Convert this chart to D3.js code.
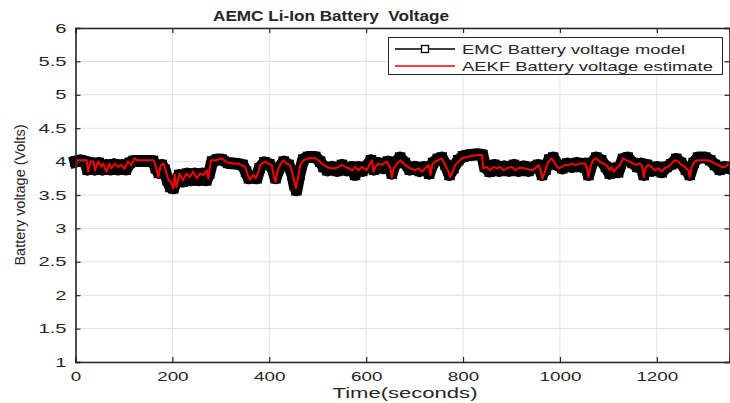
<!DOCTYPE html>
<html>
<head>
<meta charset="utf-8">
<script src="https://cdn.jsdelivr.net/npm/d3@7"></script>
<style>
body { margin: 0; background: #fff; }
text { font-family: "Liberation Sans", Arial, sans-serif; fill: #262626; white-space: pre; }
</style>
</head>
<body>
<svg id="chart" width="730" height="403"></svg>
<script>
// EMC model (black, square markers)
const timeModel = [0,10,20,25,32,40,48,56,64,72,80,88,96,104,112,120,130,160,166,172,178,184,190,196,202,208,214,222,230,238,246,254,262,270,276,282,292,302,315,330,
  345,352,358,366,374,380,390,400,408,413,420,430,440,448,452,456,462,470,480,495,505,512,520,530,540,550,560,570,577,584,592,600,610,616,625,635,645,653,660,670,
  680,690,700,710,720,730,738,748,756,764,772,780,790,800,815,830,840,845,855,865,875,885,895,905,915,925,935,945,955,963,970,978,986,995,1005,1015,1025,1035,1045,1052,
  1059,1066,1075,1085,1095,1103,1112,1120,1130,1140,1150,1160,1167,1173,1180,1190,1200,1210,1220,1230,1240,1250,1260,1268,1276,1285,1300,1310,1320,1330,1340,1350];
const voltModel = [4.00,4.02,4.00,3.88,3.98,3.88,3.98,3.88,3.95,3.88,3.96,3.88,3.95,3.88,3.98,4.01,4.01,4.01,3.90,3.83,3.95,3.88,3.72,3.62,3.60,3.70,3.80,3.70,3.82,3.72,3.82,3.72,3.82,3.72,3.82,4.00,4.03,4.03,3.98,3.97,
  3.95,3.85,3.75,3.78,3.75,3.90,3.99,3.96,3.88,3.75,3.90,4.00,3.95,3.80,3.65,3.57,3.80,4.03,4.07,4.07,4.00,3.92,3.87,3.92,3.86,3.95,3.87,3.92,3.80,3.92,3.86,3.92,4.02,3.88,3.98,3.90,4.00,3.82,3.98,4.06,
  3.98,3.88,3.92,3.86,3.92,3.82,3.98,4.04,4.06,3.95,3.80,3.90,4.02,4.08,4.10,4.11,4.10,3.92,3.85,3.95,3.86,3.93,3.86,3.95,3.86,3.93,3.86,3.92,3.95,3.80,3.88,4.03,4.06,3.95,3.90,3.97,3.92,3.98,3.92,3.97,
  3.80,3.98,4.06,4.02,3.92,3.82,3.90,3.84,4.04,4.06,3.98,3.92,3.97,3.80,3.95,3.86,3.92,3.84,3.92,3.96,4.04,3.98,3.88,3.80,3.98,4.06,4.06,4.02,3.95,3.88,3.92,3.90];

// AEKF estimate (red)
const timeEst = [0,4,23,26,31,37,40,47,54,57,64,70,74,81,88,95,101,108,115,122,126,161,166,171,176,182,192,197,202,205,208,215,222,229,236,243,250,257,264,271,274,280,290,302,312,326,336,
  350,357,360,367,372,378,381,391,398,405,411,413,417,422,429,436,443,450,455,459,464,471,481,495,505,512,519,526,536,543,550,557,564,571,577,584,591,601,608,612,615,619,625,632,643,650,653,657,664,671,
  680,691,701,708,715,722,729,733,736,742,749,756,763,770,773,777,784,791,798,808,822,832,839,842,849,856,863,870,877,884,890,901,908,914,921,932,942,949,956,960,964,969,976,983,990,997,1004,1011,
  1018,1024,1031,1041,1052,1056,1059,1063,1068,1075,1082,1089,1096,1103,1106,1112,1117,1124,1130,1137,1144,1151,1158,1164,1169,1173,1176,1182,1189,1196,1203,1210,1216,1223,1230,1237,1244,1251,1258,1265,1268,1272,1278,1285,1306,1313,1320,1327,1334,1341,1348];
const voltEst = [3.90,4.02,4.02,3.85,4.00,4.00,3.87,4.00,3.92,3.97,3.85,3.97,3.90,3.97,3.92,3.95,3.89,4.00,3.95,4.05,4.02,4.02,3.92,3.77,3.95,3.97,3.72,3.70,3.60,3.80,3.62,3.82,3.72,3.82,3.77,3.85,3.75,3.82,3.80,3.87,3.75,4.02,4.02,4.05,3.99,3.97,3.97,
  3.92,3.77,3.73,3.80,3.75,3.85,3.95,4.00,3.97,3.95,3.73,3.70,3.85,3.95,4.02,3.97,3.95,3.75,3.60,3.75,3.95,4.02,4.05,4.05,4.00,3.95,3.92,3.90,3.90,3.92,3.95,3.92,3.90,3.87,3.92,3.87,3.92,3.87,3.97,4.02,3.85,3.92,3.97,3.95,4.00,3.90,3.77,3.90,3.97,4.02,
  3.95,3.90,3.87,3.90,3.85,3.90,3.95,3.80,3.95,4.00,4.02,4.05,3.95,3.85,3.77,3.82,3.95,4.00,4.05,4.07,4.09,4.10,4.10,3.90,3.92,3.87,3.92,3.90,3.92,3.87,3.90,3.92,3.87,3.90,3.91,3.89,3.87,3.90,3.95,3.87,3.75,3.85,4.00,4.05,3.97,3.90,3.92,3.95,
  3.95,3.97,3.95,3.97,3.97,3.90,3.77,3.92,4.02,4.05,4.00,3.97,3.95,3.87,3.92,3.85,3.90,3.95,4.05,4.02,4.00,3.97,3.95,3.97,3.95,3.77,3.90,3.95,3.92,3.87,3.90,3.85,3.90,3.92,3.97,4.02,4.00,3.95,3.92,3.87,3.77,3.92,4.00,4.02,4.02,4.00,3.97,3.95,3.92,3.92,3.97];

const xTicks = [0,200,400,600,800,1000,1200];
const yTicks = [1,1.5,2,2.5,3,3.5,4,4.5,5,5.5,6];
const legendLabels = ["EMC Battery voltage model", "AEKF Battery voltage estimate"];

const svg = d3.select("#chart");
const mLeft = 75.5, mRight = 729.5, mTop = 28, mBottom = 362;
const axisColor = "#262626";

const x = d3.scaleLinear().domain([0, 1350]).range([mLeft, mRight]);
const y = d3.scaleLinear().domain([1, 6]).range([mBottom, mTop]);

// stretch text horizontally like the resized figure
function stretch(sel, k){
    sel.each(function(){
        const w = this.getComputedTextLength();
        d3.select(this).attr("textLength", w * k).attr("lengthAdjust", "spacingAndGlyphs");
    });
}

// grid
svg.append("g").selectAll("line").data(xTicks).enter().append("line")
    .attr("x1", d => x(d)).attr("x2", d => x(d)).attr("y1", mTop).attr("y2", mBottom)
    .attr("stroke", "#e0e0e0").attr("stroke-width", 1);
svg.append("g").selectAll("line").data(yTicks).enter().append("line")
    .attr("x1", mLeft).attr("x2", mRight).attr("y1", d => y(d)).attr("y2", d => y(d))
    .attr("stroke", "#e0e0e0").attr("stroke-width", 1);

// series
const modelPts = timeModel.map((t, i) => [t, voltModel[i]]);
const estPts = timeEst.map((t, i) => [t, voltEst[i]]);
const line = d3.line().x(d => x(d[0])).y(d => y(d[1]));

const plot = svg.append("g");
plot.append("path").datum(modelPts).attr("d", line)
    .attr("fill", "none").attr("stroke", "#000").attr("stroke-width", 12)
    .attr("stroke-linejoin", "round").attr("stroke-linecap", "square");
plot.selectAll("rect.mk").data(modelPts).enter().append("rect")
    .attr("class", "mk")
    .attr("x", d => x(d[0]) - 4.5).attr("y", d => y(d[1]) - 4.5)
    .attr("width", 9).attr("height", 9)
    .attr("fill", "none").attr("stroke", "#000").attr("stroke-width", 1.5);
plot.append("path").datum(estPts).attr("d", line)
    .attr("fill", "none").attr("stroke", "#ff0000").attr("stroke-width", 2)
    .attr("stroke-linejoin", "round");

// axes
const xAxis = svg.append("g").attr("transform", `translate(0,${mBottom})`)
    .call(d3.axisBottom(x).tickValues(xTicks).tickSize(-5).tickPadding(10).tickFormat(d3.format("d")));
const xAxisTop = svg.append("g").attr("transform", `translate(0,${mTop})`)
    .call(d3.axisTop(x).tickValues(xTicks).tickSize(-5).tickFormat(""));
const yAxis = svg.append("g").attr("transform", `translate(${mLeft},0)`)
    .call(d3.axisLeft(y).tickValues(yTicks).tickSize(-5).tickPadding(9).tickFormat(d => d));
const yAxisRight = svg.append("g").attr("transform", `translate(${mRight},0)`)
    .call(d3.axisRight(y).tickValues(yTicks).tickSize(-5).tickFormat(""));

[xAxis, xAxisTop, yAxis, yAxisRight].forEach(g => {
    g.select(".domain").attr("stroke", axisColor).attr("stroke-width", 1.6);
    g.selectAll(".tick line").attr("stroke", axisColor).attr("stroke-width", 1.2);
    g.selectAll("text").attr("fill", axisColor).style("font-size", "13px").style("font-family", "Liberation Sans, Arial, sans-serif");
});
xAxis.selectAll("text").attr("dy", "0.71em");
stretch(xAxis.selectAll(".tick text"), 1.45);
stretch(yAxis.selectAll(".tick text"), 1.55);

// title & labels
svg.append("text").attr("x", 331).attr("y", 21).attr("text-anchor", "middle")
    .style("font-size", "15px").style("font-weight", "bold")
    .text("AEMC Li-Ion Battery  Voltage")
    .attr("textLength", 236).attr("lengthAdjust", "spacingAndGlyphs");
svg.append("text").attr("x", 405).attr("y", 398).attr("text-anchor", "middle")
    .style("font-size", "15px")
    .text("Time(seconds)")
    .attr("textLength", 145).attr("lengthAdjust", "spacingAndGlyphs");
svg.append("text").attr("transform", "translate(24.5,195) rotate(-90)").attr("text-anchor", "middle")
    .style("font-size", "15.5px")
    .text("Battery voltage (Volts)")
    .attr("textLength", 141).attr("lengthAdjust", "spacingAndGlyphs");

// legend
const legend = svg.append("g");
legend.append("rect").attr("x", 388.5).attr("y", 37.5).attr("width", 334).attr("height", 37)
    .attr("fill", "#fff").attr("stroke", "#262626").attr("stroke-width", 1);
const legendColors = ["#000", "#ff0000"];
const rows = legend.selectAll("g.row").data(legendLabels).enter().append("g")
    .attr("transform", (d, i) => `translate(0,${49 + i * 17})`);
rows.append("line").attr("x1", 395).attr("x2", 455).attr("y1", 0).attr("y2", 0)
    .attr("stroke", (d, i) => legendColors[i]).attr("stroke-width", 1.3);
rows.filter((d, i) => i === 0).append("rect")
    .attr("x", 421.5).attr("y", -3.5).attr("width", 7).attr("height", 7)
    .attr("fill", "#fff").attr("stroke", "#000").attr("stroke-width", 1.3);
rows.append("text").attr("x", 462).attr("y", 4.5).style("font-size", "13.5px")
    .text(d => d)
    .attr("textLength", (d, i) => i === 0 ? 223 : 251).attr("lengthAdjust", "spacingAndGlyphs");
</script>
</body>
</html>
